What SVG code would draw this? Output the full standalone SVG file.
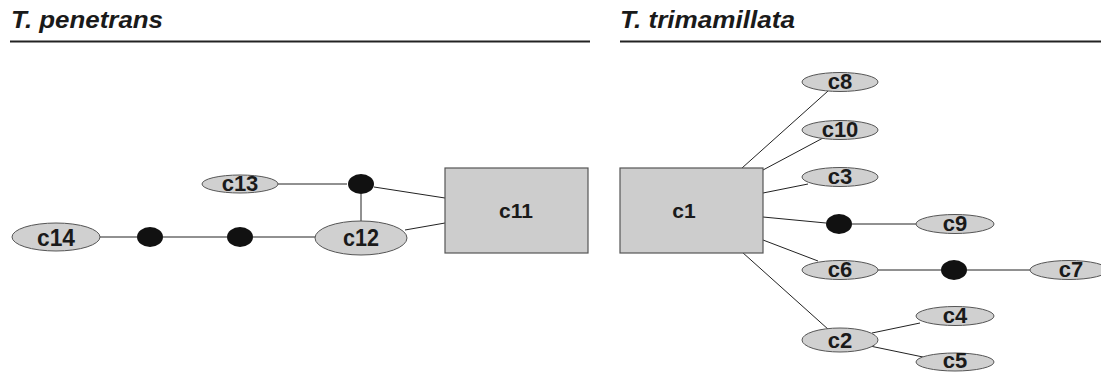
<svg xmlns="http://www.w3.org/2000/svg" width="1101" height="372" viewBox="0 0 1101 372">
<style>
.title{font-family:"Liberation Sans",Arial,sans-serif;font-weight:bold;font-style:italic;font-size:23px;fill:#1a1a1a}
.rule{stroke:#222;stroke-width:2}
.ell{fill:#d0d0d0;stroke:#555;stroke-width:1}
.box{fill:#cdcdcd;stroke:#555;stroke-width:1.2}
.dot{fill:#111}
.lbl{font-family:"Liberation Sans",Arial,sans-serif;font-weight:bold;fill:#1a1a1a;text-anchor:middle}
.big{font-size:21px}
.mid{font-size:23px}
.sm{font-size:22px}
.edge{stroke:#222;stroke-width:1;fill:none}
</style>
<rect width="1101" height="372" fill="#fff"/>
<g id="titles">
<text class="title" x="11" y="28" textLength="152" lengthAdjust="spacingAndGlyphs">T. penetrans</text>
<line class="rule" x1="10" y1="41.5" x2="590" y2="41.5"/>
<text class="title" x="620" y="28" textLength="175" lengthAdjust="spacingAndGlyphs">T. trimamillata</text>
<line class="rule" x1="620" y1="41.5" x2="1101" y2="41.5"/>
</g>
<g id="connectors">
<line class="edge" x1="100" y1="237" x2="137" y2="237"/>
<line class="edge" x1="163" y1="237" x2="227" y2="237"/>
<line class="edge" x1="253" y1="237" x2="315" y2="237"/>
<line class="edge" x1="278" y1="184" x2="347" y2="184"/>
<line class="edge" x1="361" y1="194" x2="361" y2="221"/>
<line class="edge" x1="374" y1="187" x2="445" y2="198"/>
<line class="edge" x1="405" y1="230" x2="445" y2="223"/>
<line class="edge" x1="742" y1="168" x2="828" y2="91"/>
<line class="edge" x1="763" y1="170" x2="823" y2="138"/>
<line class="edge" x1="763" y1="193" x2="808" y2="184"/>
<line class="edge" x1="763" y1="217" x2="826" y2="223"/>
<line class="edge" x1="852" y1="224" x2="916" y2="224"/>
<line class="edge" x1="763" y1="240" x2="818" y2="261"/>
<line class="edge" x1="878" y1="270" x2="941" y2="270"/>
<line class="edge" x1="967" y1="270" x2="1030" y2="270"/>
<line class="edge" x1="742" y1="252" x2="829" y2="330"/>
<line class="edge" x1="872" y1="333" x2="920" y2="323"/>
<line class="edge" x1="870" y1="346" x2="923" y2="357"/>
</g>
<g id="c14"><ellipse class="ell" cx="56" cy="237" rx="44" ry="14"/><text class="lbl mid" x="56" y="246" textLength="38" lengthAdjust="spacingAndGlyphs">c14</text></g>
<g id="m1"><ellipse class="dot" cx="150" cy="237" rx="13" ry="10"/></g>
<g id="m2"><ellipse class="dot" cx="240" cy="237" rx="13" ry="10"/></g>
<g id="c12"><ellipse class="ell" cx="361" cy="238" rx="46" ry="17"/><text class="lbl mid" x="361" y="246" textLength="36" lengthAdjust="spacingAndGlyphs">c12</text></g>
<g id="c13"><ellipse class="ell" cx="240" cy="184" rx="38" ry="9"/><text class="lbl sm" x="240" y="191">c13</text></g>
<g id="m3"><ellipse class="dot" cx="361" cy="184" rx="13" ry="10"/></g>
<g id="c11"><rect class="box" x="445" y="168" width="143" height="85"/><text class="lbl big" x="516" y="218">c11</text></g>
<g id="c1"><rect class="box" x="620" y="168" width="143" height="85"/><text class="lbl big" x="684" y="218">c1</text></g>
<g id="c8"><ellipse class="ell" cx="840" cy="82" rx="38" ry="9.5"/><text class="lbl sm" x="840" y="89">c8</text></g>
<g id="c10"><ellipse class="ell" cx="840" cy="130" rx="38" ry="9.5"/><text class="lbl sm" x="840" y="137">c10</text></g>
<g id="c3"><ellipse class="ell" cx="840" cy="177" rx="38" ry="9.5"/><text class="lbl sm" x="840" y="184">c3</text></g>
<g id="m4"><ellipse class="dot" cx="839" cy="224" rx="13" ry="10"/></g>
<g id="c9"><ellipse class="ell" cx="955" cy="224" rx="39" ry="9.5"/><text class="lbl sm" x="955" y="231">c9</text></g>
<g id="c6"><ellipse class="ell" cx="840" cy="270" rx="38" ry="9.5"/><text class="lbl sm" x="840" y="277">c6</text></g>
<g id="m5"><ellipse class="dot" cx="954" cy="270" rx="13" ry="10"/></g>
<g id="c7"><ellipse class="ell" cx="1069" cy="270" rx="39" ry="9.5"/><text class="lbl sm" x="1071" y="277">c7</text></g>
<g id="c2"><ellipse class="ell" cx="840" cy="340" rx="38" ry="12"/><text class="lbl sm" x="840" y="348">c2</text></g>
<g id="c4"><ellipse class="ell" cx="955" cy="316" rx="39" ry="9.5"/><text class="lbl sm" x="955" y="323">c4</text></g>
<g id="c5"><ellipse class="ell" cx="955" cy="362" rx="39" ry="9"/><text class="lbl sm" x="955" y="368">c5</text></g>
</svg>
